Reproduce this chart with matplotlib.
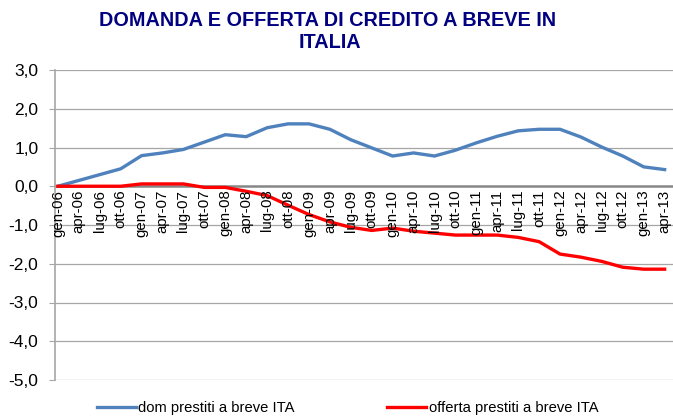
import matplotlib
matplotlib.use("Agg")
import matplotlib.pyplot as plt
import numpy as np

plt.rcParams['font.family'] = ['Liberation Sans', 'DejaVu Sans']

years = ['06', '07', '08', '09', '10', '11', '12', '13']
months = ['gen', 'apr', 'lug', 'ott']
labels = [f"{m}-{y}" for y in years for m in months][:30]

domanda = [0.00, 0.15, 0.30, 0.45, 0.79, 0.86, 0.95, 1.14, 1.33, 1.28,
           1.51, 1.61, 1.61, 1.47, 1.20, 0.99, 0.78, 0.86, 0.78, 0.93,
           1.12, 1.29, 1.43, 1.47, 1.47, 1.27, 1.01, 0.78, 0.50, 0.43]
offerta = [0.00, 0.00, 0.00, 0.00, 0.06, 0.06, 0.06, -0.03, -0.03, -0.13,
           -0.24, -0.49, -0.73, -0.92, -1.06, -1.14, -1.08, -1.16, -1.21, -1.26,
           -1.26, -1.26, -1.32, -1.43, -1.75, -1.83, -1.94, -2.09, -2.14, -2.14]

W, H = 673, 416
fig = plt.figure(figsize=(W/100, H/100), dpi=100)
ax_l, ax_r, ax_t, ax_b = 55, 673, 70, 380
ax = fig.add_axes([ax_l/W, 1-ax_b/H, (ax_r-ax_l)/W, (ax_b-ax_t)/H])

x = np.arange(len(labels))
ax.plot(x, domanda, color='#4F81BD', lw=2.4, solid_joinstyle='round', zorder=3,
        label='dom prestiti a breve ITA', clip_on=False)
ax.plot(x, offerta, color='#FF0000', lw=2.4, solid_joinstyle='round', zorder=3,
        label='offerta prestiti a breve ITA', clip_on=False)

ax.set_ylim(-5, 3)
ax.set_xlim(-0.14, 29.4)
yt = np.arange(-5, 4, 1)
ax.set_yticks(yt)
ax.set_yticklabels([f"{v:.1f}".replace('.', ',') for v in yt], fontsize=12.5)
for v in yt:
    if v != 0:
        ax.axhline(v, color='#A6A6A6', lw=0.9, zorder=1)
ax.axhline(0, color='#868686', lw=1.8, zorder=2)

for s in ['top', 'right', 'bottom']:
    ax.spines[s].set_visible(False)
ax.spines['left'].set_color('#A6A6A6')
ax.spines['left'].set_linewidth(1.2)
ax.tick_params(axis='y', length=4, color='#A6A6A6', pad=8, labelcolor='#000000')

ax.set_xticks(x)
ax.set_xticklabels([])
ax.tick_params(axis='x', length=0)
for xi, lab in zip(x, labels):
    ax.annotate(lab, xy=(xi, 0), xytext=(0, -2.5), textcoords='offset points',
                rotation=90, ha='center', va='top', fontsize=10.8,
                annotation_clip=False)

fig.text(0.487, 1-20/H, 'DOMANDA E OFFERTA DI CREDITO A BREVE IN', ha='center',
         va='center', fontsize=14.3, fontweight='bold', color='#000080')
fig.text(0.49, 1-43/H, 'ITALIA', ha='center', va='center', fontsize=14.3,
         fontweight='bold', color='#000080')

fig.legend(loc='center', bbox_to_anchor=(347.5/W, 1-408/H), ncol=2, frameon=False,
           fontsize=10.6, handlelength=2.65, handletextpad=0.15, columnspacing=6.3,
           borderpad=0, borderaxespad=0)

fig.savefig('out.png', dpi=100)
